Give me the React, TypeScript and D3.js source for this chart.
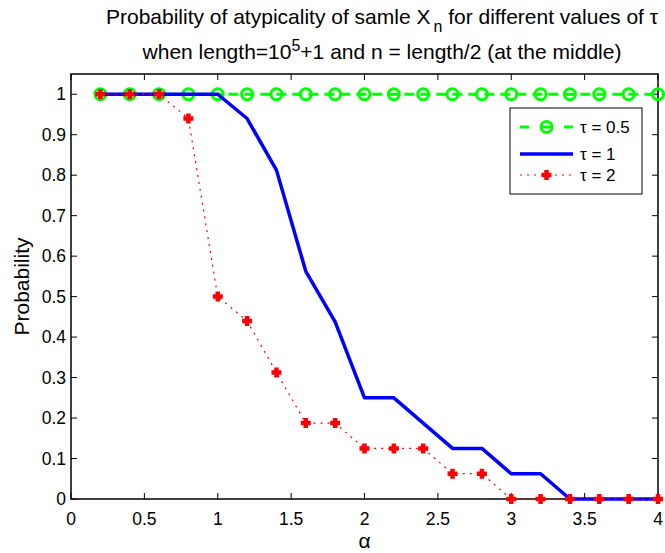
import { useEffect, useRef } from "react";
import * as d3 from "d3";

const alphas = [0.2, 0.4, 0.6, 0.8, 1.0, 1.2, 1.4, 1.6, 1.8, 2.0, 2.2, 2.4, 2.6, 2.8, 3.0, 3.2, 3.4, 3.6, 3.8, 4.0];
const tau05 = [1, 1, 1, 1, 1, 1, 1, 1, 1, 1, 1, 1, 1, 1, 1, 1, 1, 1, 1, 1];
const tau1 = [1, 1, 1, 1, 1, 0.94, 0.8125, 0.5625, 0.4375, 0.25, 0.25, 0.1875, 0.125, 0.125, 0.0625, 0.0625, 0, 0, 0, 0];
const tau2 = [1, 1, 1, 0.94, 0.5, 0.44, 0.3125, 0.1875, 0.1875, 0.125, 0.125, 0.125, 0.0625, 0.0625, 0, 0, 0, 0, 0, 0];
const xTicks = [0, 0.5, 1, 1.5, 2, 2.5, 3, 3.5, 4];
const yTicks = [0, 0.1, 0.2, 0.3, 0.4, 0.5, 0.6, 0.7, 0.8, 0.9, 1];
const legendLabels = ["\u03c4 = 0.5", "\u03c4 = 1", "\u03c4 = 2"];

const FONT = "'Liberation Sans', Arial, Helvetica, sans-serif";

export default function App() {
  const svgRef = useRef<SVGSVGElement | null>(null);

  useEffect(() => {
    const W = 665, H = 553;
    const margin = { top: 74, right: 7, bottom: 54, left: 71 };
    const width = W - margin.left - margin.right;
    const height = H - margin.top - margin.bottom;

    const svg = d3.select(svgRef.current).attr("width", W).attr("height", H);
    svg.selectAll("*").remove();
    svg.append("rect").attr("width", W).attr("height", H).attr("fill", "#fff");

    const g = svg.append("g").attr("transform", `translate(${margin.left},${margin.top})`);

    const x = d3.scaleLinear().domain([0, 4]).range([0, width]);
    const y = d3.scaleLinear().domain([0, 1.05]).range([height, 0]);

    // ticks inward on all four sides
    const tl = 6;
    const axes = g.append("g").attr("stroke", "#000").attr("stroke-width", 1);
    xTicks.forEach(t => {
      axes.append("line").attr("x1", x(t)).attr("x2", x(t)).attr("y1", height).attr("y2", height - tl);
      axes.append("line").attr("x1", x(t)).attr("x2", x(t)).attr("y1", 0).attr("y2", tl);
    });
    yTicks.forEach(t => {
      axes.append("line").attr("x1", 0).attr("x2", tl).attr("y1", y(t)).attr("y2", y(t));
      axes.append("line").attr("x1", width).attr("x2", width - tl).attr("y1", y(t)).attr("y2", y(t));
    });
    g.append("rect").attr("width", width).attr("height", height)
      .attr("fill", "none").attr("stroke", "#000").attr("stroke-width", 1.5);

    g.selectAll(".xl").data(xTicks).join("text")
      .attr("x", d => x(d)).attr("y", height + 26)
      .attr("text-anchor", "middle").style("font-family", FONT).style("font-size", "17.5px")
      .text(d => String(d));
    g.selectAll(".yl").data(yTicks).join("text")
      .attr("x", -5).attr("y", d => y(d) + 6)
      .attr("text-anchor", "end").style("font-family", FONT).style("font-size", "17.5px")
      .text(d => String(d));

    svg.append("text").attr("x", margin.left + width / 2).attr("y", 548)
      .attr("text-anchor", "middle").style("font-family", FONT).style("font-size", "21px").text("\u03b1");
    svg.append("text").attr("transform", `translate(29,${margin.top + height / 2}) rotate(-90)`)
      .attr("text-anchor", "middle").style("font-family", FONT).style("font-size", "21px").text("Probability");

    // title
    const t1 = svg.append("text").attr("x", 382).attr("y", 24).attr("text-anchor", "middle")
      .style("font-family", FONT).style("font-size", "21px");
    t1.append("tspan").text("Probability of atypicality of samle X");
    t1.append("tspan").attr("dx", 3).attr("dy", 8).style("font-size", "16px").text("n");
    t1.append("tspan").attr("dy", -8).text(" for different values of \u03c4");
    const t2 = svg.append("text").attr("x", 382).attr("y", 59).attr("text-anchor", "middle")
      .style("font-family", FONT).style("font-size", "21px");
    t2.append("tspan").text("when length=10");
    t2.append("tspan").attr("dy", -8).style("font-size", "16px").text("5");
    t2.append("tspan").attr("dy", 8).text("+1 and n = length/2 (at the middle)");

    const line = d3.line<number>().x((_, i) => x(alphas[i])).y(d => y(d));

    // tau = 0.5
    g.append("path").datum(tau05).attr("d", line).attr("fill", "none")
      .attr("stroke", "#00ff00").attr("stroke-width", 3).attr("stroke-dasharray", "10 6");
    g.selectAll(".c05").data(tau05).join("circle")
      .attr("cx", (_, i) => x(alphas[i])).attr("cy", d => y(d)).attr("r", 5.5)
      .attr("fill", "none").attr("stroke", "#00ff00").attr("stroke-width", 3);

    // tau = 1
    g.append("path").datum(tau1).attr("d", line).attr("fill", "none")
      .attr("stroke", "#0000ff").attr("stroke-width", 3.5).attr("stroke-linejoin", "round");

    // tau = 2
    g.append("path").datum(tau2).attr("d", line).attr("fill", "none")
      .attr("stroke", "#ff0000").attr("stroke-width", 1.2).attr("stroke-dasharray", "2 5");
    const plus = (cx: number, cy: number, s: number) => `M${cx - s},${cy}H${cx + s}M${cx},${cy - s}V${cy + s}`;
    g.selectAll(".p2").data(tau2).join("path")
      .attr("d", (d, i) => plus(x(alphas[i]), y(d), 5))
      .attr("stroke", "#ff0000").attr("stroke-width", 4.5).attr("fill", "none");

    // legend
    const lg = svg.append("g").attr("transform", "translate(510,108)");
    lg.append("rect").attr("width", 132).attr("height", 86).attr("fill", "#fff")
      .attr("stroke", "#000").attr("stroke-width", 1);
    const rows = [19, 46, 67];
    lg.append("line").attr("x1", 10).attr("x2", 63).attr("y1", rows[0]).attr("y2", rows[0])
      .attr("stroke", "#00ff00").attr("stroke-width", 3).attr("stroke-dasharray", "9 13");
    lg.append("circle").attr("cx", 36.5).attr("cy", rows[0]).attr("r", 5.5)
      .attr("fill", "none").attr("stroke", "#00ff00").attr("stroke-width", 3);
    lg.append("line").attr("x1", 10).attr("x2", 63).attr("y1", rows[1]).attr("y2", rows[1])
      .attr("stroke", "#0000ff").attr("stroke-width", 3.5);
    lg.append("line").attr("x1", 10).attr("x2", 63).attr("y1", rows[2]).attr("y2", rows[2])
      .attr("stroke", "#ff0000").attr("stroke-width", 1.2).attr("stroke-dasharray", "2 5");
    lg.append("path").attr("d", plus(36.5, rows[2], 5))
      .attr("stroke", "#ff0000").attr("stroke-width", 4.5).attr("fill", "none");
    legendLabels.forEach((l, i) => {
      lg.append("text").attr("x", 70).attr("y", rows[i] + 6)
        .style("font-family", FONT).style("font-size", "17px").text(l);
    });
  }, []);

  return (
    <div style={{ position: "absolute", left: 0, top: 0 }}>
      <svg ref={svgRef}></svg>
    </div>
  );
}
